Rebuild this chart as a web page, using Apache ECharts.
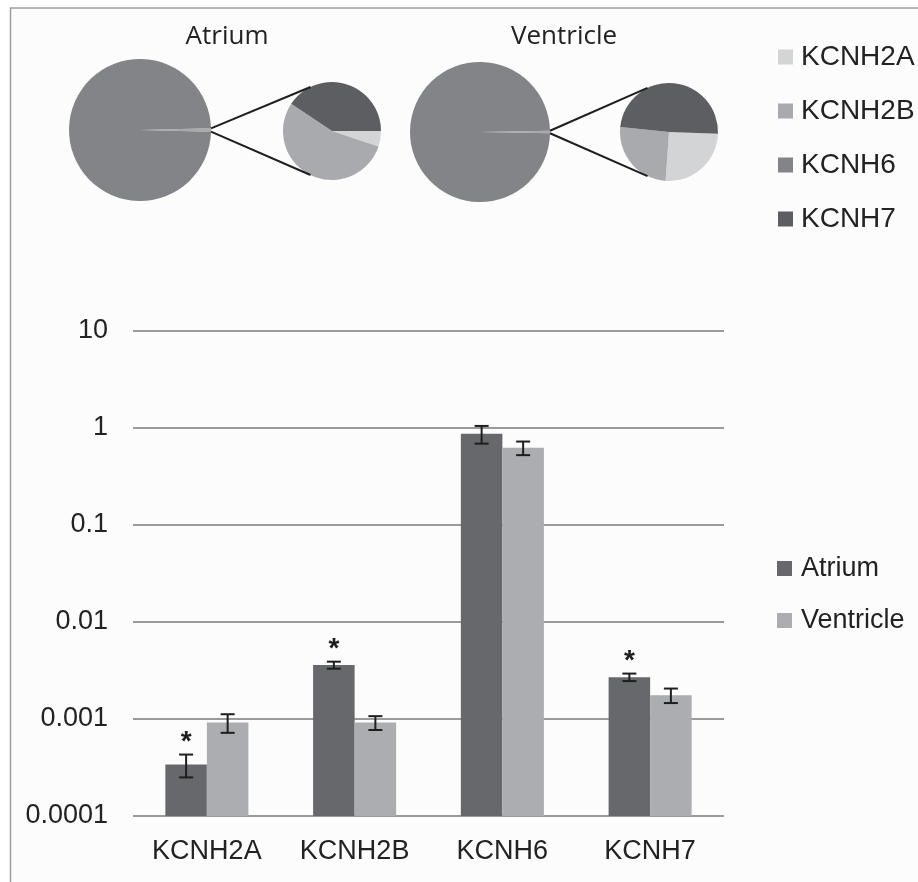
<!DOCTYPE html>
<html>
<head>
<meta charset="utf-8">
<script src="https://cdn.jsdelivr.net/npm/echarts@6/dist/echarts.min.js"></script>
<style>
html,body{margin:0;padding:0;background:#fff;}
#chart{width:918px;height:882px;}
</style>
</head>
<body>
<div id="chart"></div>
<script>
// ---- data ----
const categories = ['KCNH2A', 'KCNH2B', 'KCNH6', 'KCNH7'];
const atriumMean = [0.00034, 0.0036, 0.87, 0.0027];
const atriumErr = [0.00009, 0.0003, 0.18, 0.00024];
const ventricleMean = [0.00092, 0.00092, 0.625, 0.00176];
const ventricleErr = [0.0002, 0.00015, 0.1, 0.0003];
const significant = [true, true, false, true];
const yTickLabels = ['0.0001', '0.001', '0.01', '0.1', '1', '10'];
const groups = ['Atrium', 'Ventricle'];
const pieTitles = ['Atrium', 'Ventricle'];

// ---- style ----
const FONT = 'Liberation Sans, Arial, sans-serif';
const C = {
  atrium: '#67686c', ventricle: '#acadb0',
  KCNH2A: '#d3d4d6', KCNH2B: '#a9aaad', KCNH6: '#838488', KCNH7: '#5d5e62', other: '#a9aaac'
};
const Y_MIN = 0.0001, Y_MAX = 10;
const BAR_RATIO = 0.281;

const chart = echarts.init(document.getElementById('chart'), null, {renderer: 'canvas'});

function barSeries(name, means, color, side) {
  return {
    name: name, type: 'custom', itemStyle: {color: color},
    data: means.map((v, i) => [i, v]),
    encode: {x: 0, y: 1},
    renderItem: function (params, api) {
      const cat = api.value(0), v = api.value(1);
      const top = api.coord([cat, v]);
      const base = api.coord([cat, Y_MIN]);
      const w = api.size([1, 0])[0] * BAR_RATIO;
      const x = side < 0 ? top[0] - w : top[0];
      return {type: 'rect', shape: {x: x, y: top[1], width: w, height: base[1] - top[1]},
        style: {fill: color}};
    }
  };
}

function errSeries(name, means, errs, side, stars) {
  return {
    name: name + ' err', type: 'custom', z: 5,
    data: means.map((v, i) => [i, v, errs[i], stars && stars[i] ? 1 : 0]),
    encode: {x: 0, y: 1},
    renderItem: function (params, api) {
      const cat = api.value(0), v = api.value(1), e = api.value(2), s = api.value(3);
      const w = api.size([1, 0])[0] * BAR_RATIO;
      const c = api.coord([cat, v]);
      const cx = c[0] + side * w / 2;
      const hi = api.coord([cat, v + e])[1];
      const lo = api.coord([cat, v - e])[1];
      const cap = 7;
      const ls = {stroke: '#1e1e1e', lineWidth: 2};
      const children = [
        {type: 'line', shape: {x1: cx, y1: hi, x2: cx, y2: lo}, style: ls},
        {type: 'line', shape: {x1: cx - cap, y1: hi, x2: cx + cap, y2: hi}, style: ls},
        {type: 'line', shape: {x1: cx - cap, y1: lo, x2: cx + cap, y2: lo}, style: ls}
      ];
      if (s) {
        children.push({type: 'text', x: cx, y: hi + 2,
          style: {text: '*', font: 'bold 28px ' + FONT, fill: '#1e1e1e', align: 'center', verticalAlign: 'bottom'}});
      }
      return {type: 'group', children: children};
    }
  };
}

// pie-of-pie layout
const pies = [
  {title: pieTitles[0], means: atriumMean, big: [140, 130, 71], small: [332, 131, 49], titleX: 227, startSmall: 0},
  {title: pieTitles[1], means: ventricleMean, big: [480, 132, 70], small: [669, 132, 49], titleX: 564, startSmall: -2}
];

const series = [];
const graphics = [
  {type: 'rect', shape: {x: 10.5, y: 8, width: 930, height: 900}, style: {fill: '#fcfcfc', stroke: '#a0a0a0', lineWidth: 1.5}, z: -10}
];
pies.forEach(p => {
  const idx2A = 0, idx2B = 1, idx6 = 2, idx7 = 3;
  const otherSum = p.means[idx2A] + p.means[idx2B] + p.means[idx7];
  const total = otherSum + p.means[idx6];
  const otherAngle = 360 * otherSum / total;
  series.push({
    type: 'pie', silent: true, center: [p.big[0], p.big[1]], radius: p.big[2],
    startAngle: otherAngle / 2, clockwise: true, label: {show: false}, labelLine: {show: false},
    data: [
      {name: 'Other', value: otherSum, itemStyle: {color: C.other}},
      {name: 'KCNH6', value: p.means[idx6], itemStyle: {color: C.KCNH6}}
    ]
  });
  series.push({
    type: 'pie', silent: true, center: [p.small[0], p.small[1]], radius: p.small[2],
    startAngle: p.startSmall, clockwise: true, label: {show: false}, labelLine: {show: false},
    data: [
      {name: 'KCNH2A', value: p.means[idx2A], itemStyle: {color: C.KCNH2A}},
      {name: 'KCNH2B', value: p.means[idx2B], itemStyle: {color: C.KCNH2B}},
      {name: 'KCNH7', value: p.means[idx7], itemStyle: {color: C.KCNH7}}
    ]
  });
  // connector lines
  const a = otherAngle / 2 * Math.PI / 180;
  const b = 116 * Math.PI / 180;
  [1, -1].forEach(sgn => {
    graphics.push({type: 'line', z: 10, shape: {
      x1: p.big[0] + p.big[2] * Math.cos(a), y1: p.big[1] - sgn * p.big[2] * Math.sin(a),
      x2: p.small[0] + p.small[2] * Math.cos(b), y2: p.small[1] - sgn * p.small[2] * Math.sin(b)},
      style: {stroke: '#1e1e1e', lineWidth: 2}});
  });
  graphics.push({type: 'text', x: p.titleX, y: 37, z: 10,
    style: {text: p.title, font: '26px "Open Sans", sans-serif', fill: '#222', align: 'center', verticalAlign: 'middle'}});
});

series.push(barSeries(groups[0], atriumMean, C.atrium, -1));
series.push(barSeries(groups[1], ventricleMean, C.ventricle, 1));
series.push(errSeries(groups[0], atriumMean, atriumErr, -1, significant));
series.push(errSeries(groups[1], ventricleMean, ventricleErr, 1, null));

const option = {
  animation: false,
  backgroundColor: '#ffffff',
  graphic: graphics,
  legend: [
    {data: ['KCNH2A', 'KCNH2B', 'KCNH6', 'KCNH7'], orient: 'vertical', left: 773, top: 38,
      itemWidth: 15, itemHeight: 15, itemGap: 26, icon: 'rect', selectedMode: false,
      textStyle: {fontFamily: FONT, fontSize: 28, lineHeight: 27, color: '#222', padding: [0, 0, 0, 3]}},
    {data: groups, orient: 'vertical', left: 772, top: 550,
      itemWidth: 15, itemHeight: 15, itemGap: 25, icon: 'rect', selectedMode: false,
      textStyle: {fontFamily: FONT, fontSize: 27, lineHeight: 27, color: '#222', padding: [0, 0, 0, 4]}}
  ],
  grid: {left: 133, right: 194, top: 331, bottom: 66, containLabel: false},
  xAxis: {
    type: 'category', data: categories, boundaryGap: true,
    axisLine: {show: false}, axisTick: {show: false},
    axisLabel: {fontFamily: FONT, fontSize: 27, color: '#222', margin: 22, interval: 0}
  },
  yAxis: {
    type: 'log', logBase: 10, min: Y_MIN, max: Y_MAX, splitNumber: 5,
    axisLine: {show: false}, axisTick: {show: false},
    axisLabel: {fontFamily: FONT, fontSize: 27, color: '#222', margin: 25,
      formatter: (val, idx) => yTickLabels[idx] !== undefined ? yTickLabels[idx] : ''},
    splitLine: {show: true, lineStyle: {color: '#9a9a9a', width: 2}}
  },
  series: series
};
chart.setOption(option);
</script>
</body>
</html>
